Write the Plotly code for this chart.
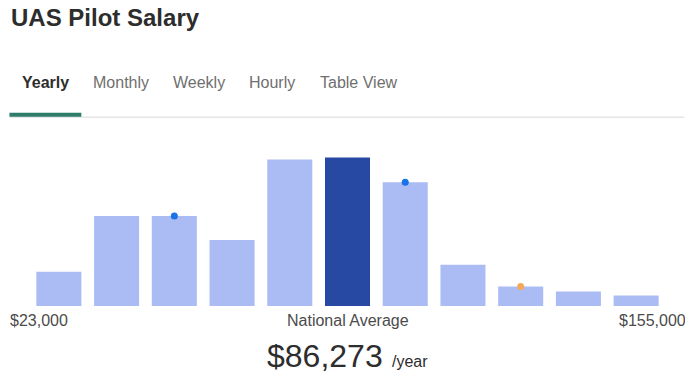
import plotly.graph_objects as go

# ---- data ----
bins = ["b1", "b2", "b3", "b4", "b5", "b6", "b7", "b8", "b9", "b10", "b11"]
counts = [34.5, 90.5, 90.5, 66.5, 147.5, 149.5, 124.5, 41.5, 19.5, 14.5, 10.5]
highlight_bin = "b6"
blue_dot_bins = ["b3", "b7"]
orange_dot_bins = ["b9"]
title_text = "UAS Pilot Salary"
tabs = ["Yearly", "Monthly", "Weekly", "Hourly", "Table View"]
min_label = "$23,000"
max_label = "$155,000"
avg_label = "National Average"
avg_value = "$86,273"
avg_unit = "/year"

# ---- layout geometry (page pixels; page body has an 8px margin) ----
OFF = 8
W, H = 693 - OFF, 378 - OFF
L, R, T, B = 29.6 - OFF, 665.4 - OFF, 146.5 - OFF, 306.5 - OFF

def px(x):
    return (x - OFF - L) / (R - L)

def py(y):
    return (B - (y - OFF)) / (B - T)

LIGHT = "#aabcf3"
DARK = "#2749a3"
colors = [DARK if b == highlight_bin else LIGHT for b in bins]

fig = go.Figure()
fig.add_trace(go.Bar(x=bins, y=counts, marker=dict(color=colors, line=dict(width=0)),
                     hoverinfo="skip"))
val = dict(zip(bins, counts))
fig.add_trace(go.Scatter(x=blue_dot_bins, y=[val[b] for b in blue_dot_bins], mode="markers",
                         marker=dict(color="#1a73e8", size=7), hoverinfo="skip", cliponaxis=False))
fig.add_trace(go.Scatter(x=orange_dot_bins, y=[val[b] for b in orange_dot_bins], mode="markers",
                         marker=dict(color="#f5a85a", size=7), hoverinfo="skip", cliponaxis=False))

FONT = "Liberation Sans, Arial, sans-serif"
ann = []
def text(t, x, y, size, color, xanchor="left", yanchor="middle", bold=False):
    if bold:
        t = "<b>" + t + "</b>"
    ann.append(dict(text=t, x=px(x), y=py(y), xref="paper", yref="paper",
                    xanchor=xanchor, yanchor=yanchor, showarrow=False,
                    font=dict(family=FONT, size=size, color=color)))

text(title_text, 9, 16, 24, "#2d2d2d", bold=True)
tab_x = [20, 91, 171, 247, 318]
for i, (t, x) in enumerate(zip(tabs, tab_x)):
    text(t, x, 82, 16, "#2d2d2d" if i == 0 else "#6f6f6f", bold=(i == 0))
text(min_label, 8, 321, 16, "#4b4b4b")
text(max_label, 688, 321, 16, "#4b4b4b", xanchor="right")
text(avg_label, 347.5, 321, 16, "#4b4b4b", xanchor="center")
text(avg_value, 385, 357, 32, "#2d2d2d", xanchor="right")
text(avg_unit, 390, 362, 16, "#2d2d2d")

shapes = [
    dict(type="line", xref="paper", yref="paper", x0=px(9), x1=px(685), y0=py(116.5), y1=py(116.5),
         line=dict(color="#d9d9d9", width=1)),
    dict(type="rect", xref="paper", yref="paper", x0=px(9), x1=px(81), y0=py(112), y1=py(116),
         fillcolor="#2d7d6a", line=dict(width=0)),
]

fig.update_layout(
    width=W, height=H, autosize=False,
    margin=dict(l=L, r=W - R, t=T, b=H - B, pad=0),
    paper_bgcolor="white", plot_bgcolor="white",
    showlegend=False, bargap=0.22,
    xaxis=dict(visible=False, range=[-0.5, 10.5], fixedrange=True),
    yaxis=dict(visible=False, range=[0, 160], fixedrange=True),
    annotations=ann, shapes=shapes,
)
fig.write_html("out.html", config={"displayModeBar": False})
